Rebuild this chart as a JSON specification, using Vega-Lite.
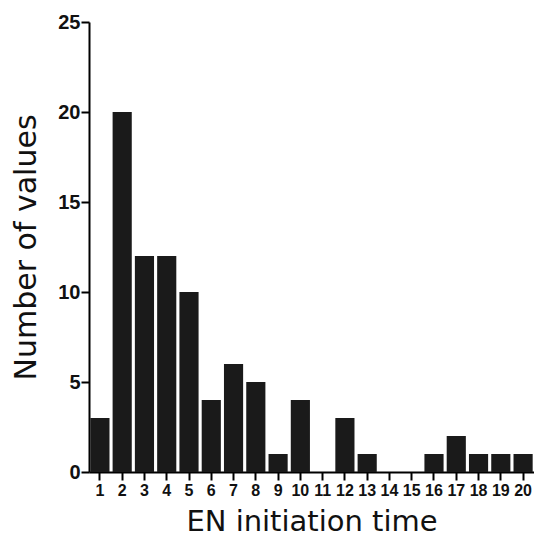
{
  "$schema": "https://vega.github.io/schema/vega-lite/v6.json",
  "autosize": "none",
  "width": 445,
  "height": 450,
  "padding": {"left": 89, "top": 22, "right": 0, "bottom": 68},
  "background": "white",
  "data": {"values": [
    {"t": "1", "n": 3}, {"t": "2", "n": 20}, {"t": "3", "n": 12}, {"t": "4", "n": 12},
    {"t": "5", "n": 10}, {"t": "6", "n": 4}, {"t": "7", "n": 6}, {"t": "8", "n": 5},
    {"t": "9", "n": 1}, {"t": "10", "n": 4}, {"t": "11", "n": 0}, {"t": "12", "n": 3},
    {"t": "13", "n": 1}, {"t": "14", "n": 0}, {"t": "15", "n": 0}, {"t": "16", "n": 1},
    {"t": "17", "n": 2}, {"t": "18", "n": 1}, {"t": "19", "n": 1}, {"t": "20", "n": 1}
  ]},
  "mark": {"type": "bar", "color": "#1a1a1a", "strokeWidth": 0},
  "encoding": {
    "x": {
      "field": "t", "type": "ordinal", "sort": null,
      "scale": {"paddingInner": 0.14, "paddingOuter": 0.06},
      "axis": {
        "title": "EN initiation time", "titleFont": "DejaVu Sans", "titleFontSize": 29,
        "titleFontWeight": "normal", "titleColor": "#111", "titlePadding": 9,
        "labelAngle": 0, "labelFont": "Liberation Sans", "labelFontWeight": "bold",
        "labelFontSize": 16, "labelColor": "#111", "labelPadding": 2,
        "domainColor": "#000", "domainWidth": 2, "tickColor": "#000", "tickWidth": 2, "tickSize": 8
      }
    },
    "y": {
      "field": "n", "type": "quantitative",
      "scale": {"domain": [0, 25], "nice": false},
      "axis": {
        "title": "Number of values", "titleFont": "DejaVu Sans", "titleFontSize": 30,
        "titleFontWeight": "normal", "titleColor": "#111", "titlePadding": 16,
        "values": [0, 5, 10, 15, 20, 25], "grid": false,
        "labelFont": "Liberation Sans", "labelFontWeight": "bold", "labelFontSize": 20,
        "labelColor": "#111", "labelPadding": 1,
        "domainColor": "#000", "domainWidth": 2, "tickColor": "#000", "tickWidth": 2, "tickSize": 8
      }
    }
  },
  "config": {"view": {"stroke": null}}
}
